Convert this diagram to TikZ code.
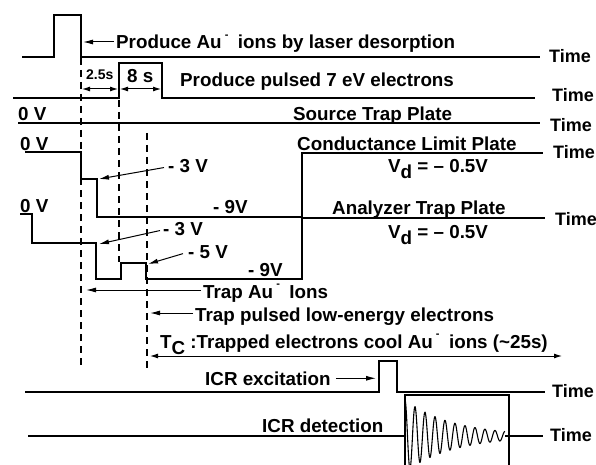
\documentclass[tikz,border=0pt]{standalone}
\usepackage{fontspec}
\setmainfont{Liberation Sans}
\usetikzlibrary{arrows.meta,calc}
\newcommand{\auneg}{Au\,\raisebox{0.55em}{\fontsize{11}{11}\selectfont -}\enspace}
\newcommand{\vdsub}{V\raisebox{-0.35em}{d}}
\begin{document}
\begin{tikzpicture}[x=1pt,y=-1pt,
  wave/.style={line width=1.3pt, line join=miter},
  guide/.style={line width=1.2pt, dash pattern=on 7pt off 5pt},
  arr/.style={line width=1pt, -{Latex[length=10pt,width=5pt]}},
  dbl/.style={line width=1pt, {Latex[length=8pt,width=5pt]}-{Latex[length=8pt,width=5pt]}},
  lbl/.style={font=\fontsize{18.8}{21}\selectfont\bfseries, inner sep=0pt, anchor=base west},
  timel/.style={font=\fontsize{18}{20}\selectfont\bfseries, inner sep=0pt, anchor=base west},
  small/.style={font=\fontsize{14}{16}\selectfont\bfseries, inner sep=0pt, anchor=base west}
]
\useasboundingbox (0,0) rectangle (596,465);

% dashed guides
\draw[guide] (81,58) -- (81,368);
\draw[guide] (119,100) -- (119,262);
\draw[guide] (147,133) -- (147,368);

% Row 1: laser desorption
\draw[wave] (22,57) -- (54,57) -- (54,15) -- (81,15) -- (81,57) -- (540,57);
\node[lbl] (r1) at (116,48.5) {Produce \auneg ions by laser desorption};
\coordinate (r1tip) at (83,42);
\draw[arr, shorten <=2pt] (r1tip -| r1.west) -- (r1tip);
\node[timel] (time1) at (549,63) {Time};

% Row 2: pulsed electrons
\draw[wave] (13,98) -- (119,98) -- (119,63) -- (162,63) -- (162,98) -- (535,98);
\node[small] (t25) at (86,80) {2.5s};
\node[lbl] (t8) at (127,83) {8 s};
\coordinate (d1a) at (82,89);
\coordinate (d1b) at (118,89);
\coordinate (d2a) at (120,89);
\coordinate (d2b) at (161,89);
\draw[dbl] (d1a) -- (d1b);
\draw[dbl] (d2a) -- (d2b);
\node[lbl] (r2) at (180,87) {Produce pulsed 7 eV electrons};
\node[timel] (time2) at (552,102) {Time};

% Row 3: source trap plate
\draw[wave] (18,123) -- (540,123);
\node[lbl] (z3) at (18,121) {0 V};
\node[lbl] (src) at (293,121) {Source Trap Plate};
\node[timel] (time3) at (550,132) {Time};

% Row 4: conductance limit plate
\draw[wave] (25,152) -- (81,152) -- (81,179) -- (97,179) -- (97,217) -- (302,217) -- (302,153) -- (543,153);
\node[lbl] (z4) at (20,150) {0 V};
\node[lbl] (cl) at (297,150) {Conductance Limit Plate};
\node[lbl] (vd1) at (388,172) {\vdsub{} = -- 0.5V};
\node[lbl] (m3a) at (168,172) {- 3 V};
\coordinate (m3atip) at (99,179);
\draw[arr] ($(m3a.west)+(-4,2)$) -- (m3atip);
\node[lbl] (m9a) at (213,213) {- 9V};
\node[timel] (time4) at (553,159) {Time};

% Row 5: analyzer trap plate
\draw[wave] (20,214) -- (32,214) -- (32,243) -- (96,243) -- (96,279) -- (121,279) -- (121,263) -- (146,263) -- (146,279) -- (302,279) -- (302,218) -- (545,218);
\node[lbl] (z5) at (20,212) {0 V};
\node[lbl] (at) at (332,214) {Analyzer Trap Plate};
\node[lbl] (vd2) at (388,238) {\vdsub{} = -- 0.5V};
\node[lbl] (m3b) at (163,235) {- 3 V};
\coordinate (m3btip) at (99,244);
\draw[arr] ($(m3b.west)+(-3,2)$) -- (m3btip);
\node[lbl] (m5) at (188,258) {- 5 V};
\coordinate (m5tip) at (148,264);
\draw[arr] ($(m5.west)+(-5,2)$) -- (m5tip);
\node[lbl] (m9b) at (248,276) {- 9V};
\node[timel] (time5) at (555,225) {Time};

% Lower annotations
\node[lbl] (trapau) at (203,298) {Trap \auneg Ions};
\coordinate (c1) at (86,290);
\draw[arr, shorten <=2pt] (c1 -| trapau.west) -- (c1);
\node[lbl] (trape) at (195,321) {Trap pulsed low-energy electrons};
\coordinate (c2) at (150,313);
\draw[arr, shorten <=2pt] (c2 -| trape.west) -- (c2);
\node[lbl] (tc) at (160,348) {T\raisebox{-0.35em}{C} :Trapped electrons cool \auneg ions (\textasciitilde25s)};
\coordinate (tca) at (150,356);
\coordinate (tcb) at (562,356);
\draw[dbl] (tca) -- (tcb);

% ICR excitation
\draw[wave] (25,392) -- (379,392) -- (379,361) -- (397,361) -- (397,392) -- (545,392);
\node[lbl] (exc) at (205,385) {ICR excitation};
\coordinate (c4) at (376,0);
\draw[arr, shorten <=5pt] (exc.east) -- (exc.east -| c4);
\node[timel] (time6) at (552,397) {Time};

% ICR detection
\draw[wave] (28,436) -- (405,436);
\draw[wave] (505,436) -- (543,436);
\draw[wave] (405,465) -- (405,395) -- (509,395) -- (509,465);
\draw[line width=1.1pt] plot[domain=0:100, samples=500, smooth] ({405+\x},{436-36*exp(-\x/48)*cos(36*\x)});
\node[lbl] (det) at (262,432) {ICR detection};
\node[timel] (time7) at (550,441) {Time};
\end{tikzpicture}
\end{document}
